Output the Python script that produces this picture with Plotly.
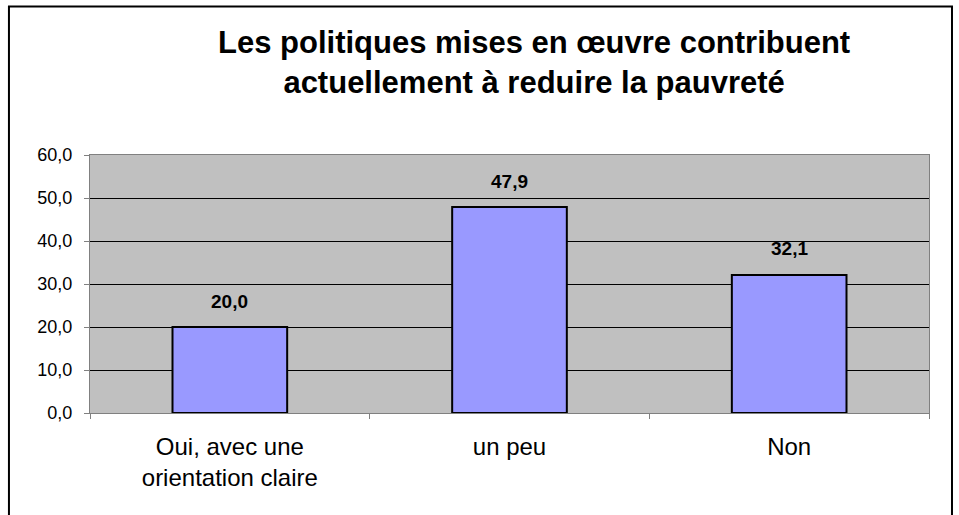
import plotly.graph_objects as go

categories = ["Oui, avec une<br>orientation claire", "un peu", "Non"]
values = [20.0, 47.9, 32.1]
y_ticks = [0, 10, 20, 30, 40, 50, 60]
title_text = "<b>Les politiques mises en œuvre contribuent<br>actuellement à reduire la pauvreté</b>"

FONT = "Liberation Sans, Arial, sans-serif"

fig = go.Figure()
fig.add_trace(go.Bar(
    x=categories, y=values,
    marker=dict(color="#9999FF", line=dict(color="black", width=2)),
    width=0.41,
    hoverinfo="skip",
))

for c, v in zip(categories, values):
    fig.add_annotation(
        x=c, y=v, xref="x", yref="y",
        text="<b>" + f"{v:.1f}".replace(".", ",") + "</b>",
        showarrow=False, yanchor="middle", yshift=26,
        font=dict(family=FONT, size=19, color="black"),
    )

fig.add_annotation(
    x=0.529, y=1.36, xref="paper", yref="paper",
    text=title_text, showarrow=False, xanchor="center", yanchor="middle",
    font=dict(family=FONT, size=31, color="black"),
)

# outer frame
fig.add_shape(type="rect", xref="paper", yref="paper",
              x0=-0.0966, x1=1.0274, y0=-0.45, y1=1.576,
              line=dict(color="black", width=2), fillcolor="rgba(0,0,0,0)", layer="below")

fig.update_layout(
    width=959, height=515,
    margin=dict(l=90, r=30, t=155, b=102),
    paper_bgcolor="white",
    plot_bgcolor="#C0C0C0",
    showlegend=False,
    separators=",.",
    font=dict(family=FONT, color="black"),
    bargap=0.59,
)

fig.update_yaxes(
    range=[0, 60], tickvals=y_ticks, tickformat=".1f",
    showgrid=True, gridcolor="black", gridwidth=1,
    zeroline=True, zerolinecolor="black", zerolinewidth=1,
    showline=True, linecolor="#808080", linewidth=1, mirror=True,
    ticks="outside", ticklen=5, tickcolor="#808080",
    tickfont=dict(family=FONT, size=18, color="black"),
    ticklabelstandoff=8,
    fixedrange=True,
)
fig.update_xaxes(
    showline=True, linecolor="#808080", linewidth=1, mirror=True,
    ticks="outside", ticklen=5, tickcolor="#808080", tickson="boundaries",
    tickfont=dict(family=FONT, size=24, color="black"),
    ticklabelstandoff=12,
    fixedrange=True,
)

fig.write_html(
    "out.html",
    config={"displayModeBar": False},
    post_script="document.body.style.margin='0';document.body.style.overflow='hidden';",
)
